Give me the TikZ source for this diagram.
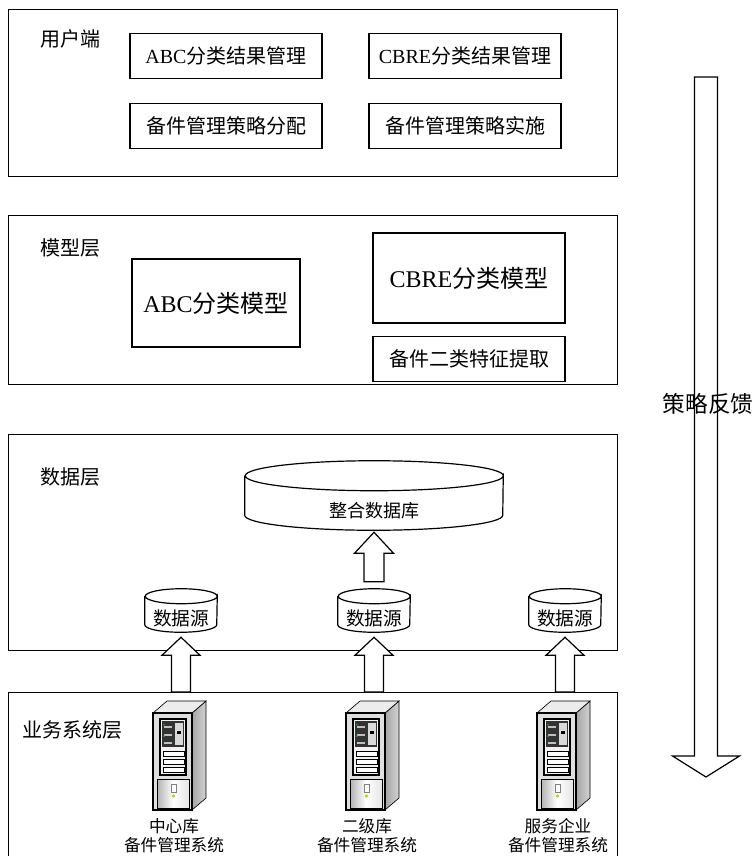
\documentclass[tikz,border=0pt]{standalone}
\usepackage{fontspec}
\setmainfont{Liberation Serif}
\newfontfamily\cjk{Noto Sans CJK SC}
\usepackage{tikz}
\usetikzlibrary{calc}

% block arrow: tail, tip, shaft half width, head half width, head length
\newcommand\blockarrow[5]{%
  \draw[arrowbody] (#2) -- ($(#2)+(#4,#5)$) -- ($(#2)+(#3,#5)$) -- ($(#1)+(#3,0)$)
    -- ($(#1)+(-#3,0)$) -- ($(#2)+(-#3,#5)$) -- ($(#2)+(-#4,#5)$) -- cycle;}
% database drum around a node: name, x radius, y radius
\newcommand\dbcyl[3]{%
  \draw[line width=0.9pt] ($(#1.north west)+(0,-#3)$) -- ($(#1.south west)+(0,-#3)$)
    arc[start angle=180,end angle=0,x radius=#2,y radius=#3]
    -- ($(#1.north east)+(0,-#3)$)
    arc[start angle=0,end angle=360,x radius=#2,y radius=#3];}

\tikzset{
  server/.pic={
    \draw[line width=0.5pt, left color=gray!70, right color=gray!35] (11,12) -- (25,0) -- (25,97) -- (11,109) -- cycle;
    \draw[line width=0.5pt, fill=gray!15] (-28,12) -- (-14,0) -- (25,0) -- (11,12) -- cycle;
    \draw[line width=1.2pt, fill=gray!25] (-28,12) rectangle (11,109);
    \draw[line width=0.8pt, fill=gray!10] (-21,18) rectangle (5,74);
    \fill[black!80] (-19,20) rectangle (3,46);
    \fill[gray!30] (-6,22) rectangle (2,44);
    \fill[black] (-4,30) rectangle (0,33);
    \foreach \yy in {25,33,41} \fill[gray!50] (-17,\yy) rectangle (-9,\yy+1.5);
    \fill[green!70!black] (-17,23.5) circle (1);
    \fill[green!70!black] (-17,35) circle (1);
    \foreach \yy in {50,58,66} \draw[line width=0.6pt, fill=white] (-18,\yy) rectangle (3,\yy+5);
    \draw[line width=0.6pt, left color=gray!60, right color=gray!20, middle color=white] (-24,78) rectangle (8,107);
    \draw[gray, fill=white] (-10,83) rectangle (-5,91);
    \fill[yellow!70!green] (-7.5,95) circle (1.8);
  }
}

\begin{document}
\begin{tikzpicture}[x=0.75pt, y=-0.75pt,
    layer/.style={draw, line width=0.9pt, anchor=north west, minimum width=456.75pt, inner sep=0pt},
    layertag/.style={anchor=west, inner sep=0pt, font=\cjk\fontsize{15}{18}\selectfont},
    modbox/.style={draw, line width=0.9pt, inner sep=0pt, minimum width=144pt, minimum height=34pt, font=\cjk\fontsize{15}{18}\selectfont},
    bigbox/.style={modbox, font=\cjk\fontsize{18}{21}\selectfont},
    srcnode/.style={inner sep=0pt, minimum width=54pt, minimum height=21pt, font=\cjk\fontsize{14}{16}\selectfont},
    srvtext/.style={align=center, inner sep=0pt, font=\cjk\fontsize{12.5}{14.25}\selectfont},
    arrowbody/.style={draw, fill=white, line width=0.9pt, line join=miter}]
  \useasboundingbox (0,0) rectangle (754,856);

  % layers
  \node[layer, minimum height=125.25pt] (user) at (8,9) {};
  \node[layer, minimum height=126.75pt] (model) at (8,215) {};
  \node[layer, minimum height=162pt] (data) at (8,434) {};
  \node[layer, minimum height=135pt] (biz) at (8,692) {};
  \node[layertag] (tuser) at ($(user.north west)+(32,30)$) {用户端};
  \node[layertag] (tmodel) at ($(model.north west)+(32,33)$) {模型层};
  \node[layertag] (tdata) at ($(data.north west)+(32,43)$) {数据层};
  \node[layertag] (tbiz) at ($(biz.north west)+(14,38)$) {业务系统层};

  % user side
  \node[modbox] (abcres) at (226,56) {\textrm{ABC}分类结果管理};
  \node[modbox] (cbreres) at (465,56) {\textrm{CBRE}分类结果管理};
  \node[modbox] (alloc) at (226,126) {备件管理策略分配};
  \node[modbox] (apply) at (465,126) {备件管理策略实施};

  % models
  \node[bigbox, minimum width=126pt, minimum height=66pt] (abcmod) at (216,303) {\textrm{ABC}分类模型};
  \node[bigbox, minimum height=67.5pt] (cbremod) at (469,278) {\textrm{CBRE}分类模型};
  \node[modbox] (feat) at (469,359) {备件二类特征提取};

  % data
  \node[srcnode, minimum width=193.5pt, minimum height=29.25pt, font=\cjk\fontsize{13.5}{16}\selectfont] (db) at (374,510.5) {整合数据库};
  \dbcyl{db}{129}{15}
  \node[srcnode] (ds1) at (181,618) {数据源};
  \node[srcnode] (ds2) at (374,618) {数据源};
  \node[srcnode] (ds3) at (565,618) {数据源};
  \dbcyl{ds1}{36}{7.5}
  \dbcyl{ds2}{36}{7.5}
  \dbcyl{ds3}{36}{7.5}
  \blockarrow{$(ds2.north)+(0,-22)$}{$(db.south)+(0,2)$}{10}{19.5}{21}

  % business systems
  \coordinate (s1) at (181,701);
  \coordinate (s2) at (374,701);
  \coordinate (s3) at (565,701);
  \pic at (s1) {server};
  \pic at (s2) {server};
  \pic at (s3) {server};
  \node[srvtext] (l1) at ($(s1)+(-7,134.5)$) {中心库\\备件管理系统};
  \node[srvtext] (l2) at ($(s2)+(-7,134.5)$) {二级库\\备件管理系统};
  \node[srvtext] (l3) at ($(s3)+(-7,134.5)$) {服务企业\\备件管理系统};
  \blockarrow{ds1 |- biz.north}{$(ds1.south)+(0,5)$}{9.5}{19}{18}
  \blockarrow{ds2 |- biz.north}{$(ds2.south)+(0,5)$}{9.5}{19}{18}
  \blockarrow{ds3 |- biz.north}{$(ds3.south)+(0,5)$}{9.5}{19}{18}

  % feedback
  \coordinate (fbtop) at (706,77);
  \coordinate (fbtip) at (706,777);
  \blockarrow{fbtop}{fbtip}{11.5}{33.5}{-21}
  \node[inner sep=0pt, font=\cjk\fontsize{17}{20}\selectfont] (fb) at (708,404) {策略反馈};
\end{tikzpicture}
\end{document}
